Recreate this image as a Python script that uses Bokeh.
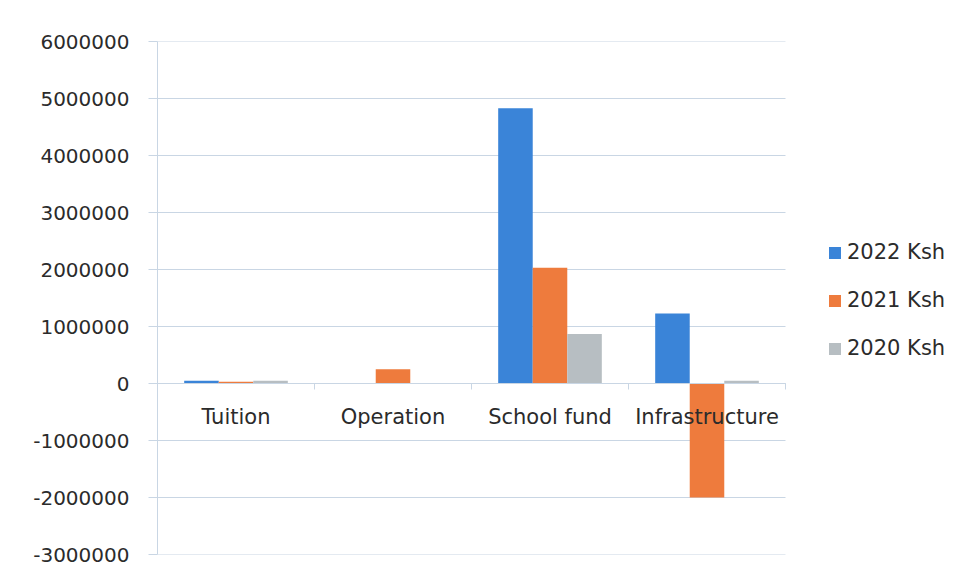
from bokeh.plotting import figure
from bokeh.models import (Range1d, LinearAxis, FixedTicker, Legend,
                          LegendItem, ColumnDataSource)
from bokeh.transform import dodge
from bokeh.embed import file_html
from bokeh.resources import INLINE

categories = ["Tuition", "Operation", "School fund", "Infrastructure"]
series_names = ["2022 Ksh", "2021 Ksh", "2020 Ksh"]
values_2022 = [50000, 0, 4830000, 1230000]
values_2021 = [30000, 250000, 2030000, -2000000]
values_2020 = [50000, 0, 870000, 50000]
y_ticks = [-3000000, -2000000, -1000000, 0, 1000000, 2000000, 3000000,
           4000000, 5000000, 6000000]
colors = ["#3a84d8", "#ee7b3d", "#b7bec2"]

GRID = "#c9d6e4"
TEXT = "#2b2b2b"
FONT = "DejaVu Sans"

W, H = 960, 577
LEFT, TOP, BOTTOM = 157, 41, 23
PLOT_W = 628  # width of the gridded plot area in pixels

n = len(categories)
centers = [i + 0.5 for i in range(n)]
source = ColumnDataSource(dict(pos=centers, cat=categories, v2022=values_2022,
                               v2021=values_2021, v2020=values_2020))

x_end = n * (W - LEFT) / PLOT_W
p = figure(width=W, height=H, x_range=Range1d(0, x_end),
           y_range=Range1d(y_ticks[0], y_ticks[-1]),
           x_axis_location=None,
           output_backend="svg", toolbar_location=None,
           min_border_left=LEFT, min_border_right=0,
           min_border_top=TOP, min_border_bottom=BOTTOM)

p.outline_line_color = None
p.xgrid.visible = False
p.ygrid.visible = False

# horizontal gridlines limited to the category area
p.segment(x0=[0] * len(y_ticks), x1=[n] * len(y_ticks), y0=y_ticks, y1=y_ticks,
          line_color=GRID, line_width=1)

bw = 0.22
r1 = p.vbar(x=dodge("pos", -bw), top="v2022", width=bw,
            source=source, fill_color=colors[0], line_color=None)
r2 = p.vbar(x=dodge("pos", 0), top="v2021", width=bw,
            source=source, fill_color=colors[1], line_color=None)
r3 = p.vbar(x=dodge("pos", bw), top="v2020", width=bw,
            source=source, fill_color=colors[2], line_color=None)

# y axis
yax = p.yaxis[0]
yax.ticker = FixedTicker(ticks=y_ticks)
yax.major_label_overrides = {t: str(t) for t in y_ticks}
yax.axis_line_color = GRID
yax.major_tick_line_color = GRID
yax.major_tick_out = 9
yax.major_tick_in = 0
yax.minor_tick_line_color = None
yax.major_label_standoff = 19
yax.major_label_text_font = FONT
yax.major_label_text_font_size = "20px"
yax.major_label_text_color = TEXT

# category labels at zero line
xax = LinearAxis(ticker=FixedTicker(ticks=centers), bounds=(0, n),
                 major_label_overrides={c: lab for c, lab in zip(centers, categories)})
xax.fixed_location = 0
xax.axis_line_color = GRID
xax.major_tick_line_color = None
xax.minor_tick_line_color = None
xax.major_label_standoff = 15
xax.major_label_text_font = FONT
xax.major_label_text_font_size = "21px"
xax.major_label_text_color = TEXT
p.add_layout(xax, "below")

# boundary ticks at zero line
bax = LinearAxis(ticker=FixedTicker(ticks=list(range(n + 1))), bounds=(0, n))
bax.fixed_location = 0
bax.axis_line_color = GRID
bax.major_tick_line_color = GRID
bax.major_tick_out = 6
bax.major_tick_in = 0
bax.minor_tick_line_color = None
bax.major_label_text_alpha = 0
bax.major_label_text_font_size = "1px"
p.add_layout(bax, "below")

legend = Legend(items=[LegendItem(label=series_names[0], renderers=[r1]),
                       LegendItem(label=series_names[1], renderers=[r2]),
                       LegendItem(label=series_names[2], renderers=[r3])],
                location=(670, 194), border_line_color=None,
                background_fill_alpha=0,
                glyph_width=15, glyph_height=15, label_standoff=5,
                label_height=20, spacing=24, padding=0, margin=0,
                label_text_font=FONT, label_text_font_size="21px",
                label_text_color=TEXT)
p.add_layout(legend, "center")

open("out.html", "w").write(file_html(p, INLINE))
